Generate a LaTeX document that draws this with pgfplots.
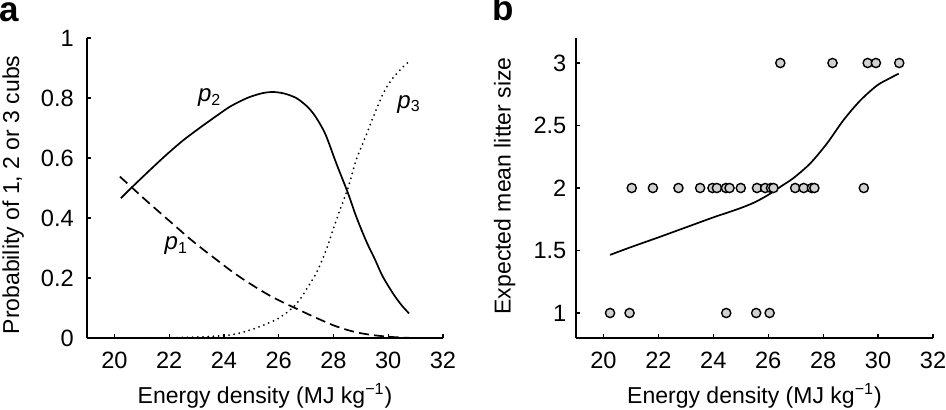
\documentclass[border=0pt]{standalone}
\usepackage{pgfplots}
\pgfplotsset{compat=1.18}
\usepackage{fontspec}
\setmainfont{Liberation Sans}
\begin{document}
\begin{tikzpicture}
\pgfplotsset{
  myax/.style={
    scale only axis, width=178pt, height=150pt,
    xmin=19, xmax=32,
    axis x line*=bottom, axis y line*=left,
    axis line style={-, line width=0.7pt, black},
    tick align=inside, major tick length=2.2pt,
    every tick/.style={black, line width=0.6pt},
    xtick={20,22,24,26,28,30,32},
    xticklabels={20,22,24,26,28,30,32},
    /pgf/number format/assume math mode=true,
    tick label style={font=\fontsize{11.8}{13}\selectfont},
    xticklabel style={yshift=-3.6pt},
    label style={font=\fontsize{11.5}{13}\selectfont},
    xlabel={Energy density (MJ kg\textsuperscript{\char"2212 1})},
    xlabel style={at={(axis description cs:0.5,-0.2167)}, anchor=base},
  }
}
\begin{axis}[myax, at={(43.5pt,35.5pt)}, anchor=south west,
  ymin=0, ymax=1,
  ytick={0,0.2,0.4,0.6,0.8,1},
  yticklabels={0,0.2,0.4,0.6,0.8,1},
  yticklabel style={xshift=-3.1pt},
  ylabel={Probability of 1, 2 or 3 cubs},
  ylabel style={at={(axis description cs:-0.191,0.477)}, anchor=base},
]
% p2
\addplot[black, line width=0.85pt, smooth, tension=0.5] coordinates {
(20.24,0.466) (20.67,0.505) (21.3,0.560) (21.89,0.610) (22.5,0.658) (23.11,0.700)
(23.8,0.745) (24.2,0.770) (24.57,0.788) (24.93,0.803) (25.4,0.816) (25.79,0.820)
(26.2,0.815) (26.64,0.800) (27.0,0.775) (27.25,0.750) (27.5,0.715) (27.74,0.672)
(28.1,0.583) (28.53,0.483) (28.83,0.405) (29.2,0.322) (29.5,0.265) (29.8,0.205)
(30.2,0.145) (30.5,0.108) (30.76,0.082)};
% p1
\addplot[black, line width=0.85pt, dash pattern=on 5pt off 2.6pt, smooth] coordinates {
(20.2,0.538) (20.67,0.499) (21.2,0.455) (21.7,0.415) (22.2,0.375) (22.7,0.335)
(23.2,0.298) (23.7,0.263) (24.2,0.228) (24.7,0.196) (25.2,0.167) (25.7,0.140)
(26.2,0.117) (26.76,0.093) (27.3,0.070) (27.98,0.043) (28.5,0.027) (29.0,0.016)
(29.5,0.009) (30.05,0.004) (30.4,0.002) (30.75,0.001)};
% p3
\addplot[black, line width=1.0pt, line cap=round, dash pattern=on 0pt off 2.6pt, smooth] coordinates {
(20.2,0.000) (21,0.000) (22,0.001) (23,0.003) (24,0.008) (24.5,0.015) (25,0.028)
(25.5,0.045) (26,0.066) (26.5,0.100) (26.76,0.127) (27,0.160) (27.37,0.216)
(27.7,0.285) (27.98,0.360) (28.25,0.430) (28.53,0.500) (28.83,0.594) (29.08,0.650)
(29.32,0.705) (29.6,0.770) (29.9,0.830) (30.2,0.870) (30.5,0.900) (30.7,0.917)};
\node[anchor=base west, font=\fontsize{12}{13}\selectfont] at (axis cs:22.8,0.788) {\textit{p}\textsubscript{2}};
\node[anchor=base west, font=\fontsize{12}{13}\selectfont] at (axis cs:30.08,0.766) {\textit{p}\textsubscript{3}};
\node[anchor=base west, font=\fontsize{12}{13}\selectfont] at (axis cs:21.58,0.294) {\textit{p}\textsubscript{1}};
\end{axis}
\begin{axis}[myax, at={(288pt,35.5pt)}, anchor=south west, width=178.5pt,
  ymin=0.8, ymax=3.2,
  ytick={1,1.5,2,2.5,3},
  yticklabels={1,1.5,2,2.5,3},
  yticklabel style={xshift=-1.3pt},
  ylabel={Expected mean litter size},
  ylabel style={at={(axis description cs:-0.183,0.507)}, anchor=base},
]
\addplot[black, line width=0.85pt, smooth, tension=0.5] coordinates {
(20.24,1.465) (21,1.527) (22,1.605) (23,1.685) (24,1.765) (24.5,1.802) (25,1.840)
(25.5,1.885) (26,1.945) (26.5,2.018) (26.92,2.080) (27.53,2.197) (28.14,2.357)
(28.74,2.543) (29.35,2.700) (29.96,2.820) (30.4,2.875) (30.75,2.915)};
\addplot[only marks, mark=*, mark size=2.3pt, mark options={fill=black!18, draw=black, line width=0.7pt}] coordinates {
(26.44,3) (28.34,3) (29.62,3) (29.92,3) (30.77,3)
(21.03,2) (21.80,2) (22.73,2) (23.52,2) (23.97,2) (24.13,2) (24.46,2) (24.59,2)
(25.00,2) (25.59,2) (25.89,2) (26.10,2) (26.19,2) (26.98,2) (27.29,2) (27.59,2)
(27.68,2) (29.48,2)
(20.24,1) (20.95,1) (24.47,1) (25.56,1) (26.05,1)};
\end{axis}
\node[anchor=base west, inner sep=0pt, font=\bfseries\fontsize{17.5}{18}\selectfont] at (-0.3pt,194pt) {a};
\node[anchor=base west, inner sep=0pt, font=\bfseries\fontsize{17.5}{18}\selectfont] at (246pt,194.5pt) {b};
\pgfresetboundingbox
\path[use as bounding box] (0,0) rectangle (473pt,204.5pt);
\end{tikzpicture}
\end{document}
